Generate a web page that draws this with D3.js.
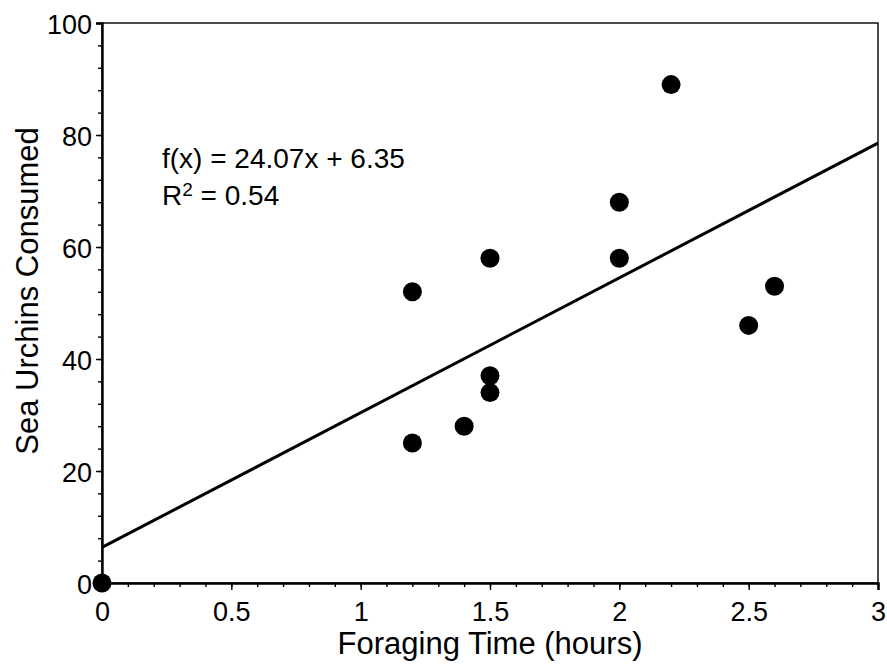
<!DOCTYPE html>
<html>
<head>
<meta charset="utf-8">
<script src="https://cdn.jsdelivr.net/npm/d3@7"></script>
<style>
  body { margin: 0; background: #fff; }
  text { font-family: "Liberation Sans", Arial, sans-serif; fill: #000; }
</style>
</head>
<body>
<div id="chart"></div>
<script>
// data
const hours = [0, 1.2, 1.2, 1.4, 1.5, 1.5, 1.5, 2, 2, 2.2, 2.5, 2.6];
const urchins = [0, 52, 25, 28, 58, 37, 34, 68, 58, 89, 46, 53];
const slope = 24.07, intercept = 6.35;
const xTicks = [0, 0.5, 1, 1.5, 2, 2.5, 3];
const yTicks = [0, 20, 40, 60, 80, 100];

const W = 887, H = 664;
const margin = { top: 23, right: 9, bottom: 81, left: 102 },
      width  = W - margin.left - margin.right,
      height = H - margin.top - margin.bottom;

const svg = d3.select("#chart").append("svg")
    .attr("width", W).attr("height", H)
  .append("g")
    .attr("transform", `translate(${margin.left},${margin.top})`);

const x = d3.scaleLinear().domain([0, 3]).range([0, width]);
const y = d3.scaleLinear().domain([0, 100]).range([height, 0]);

// frame
svg.append("rect")
   .attr("width", width).attr("height", height)
   .attr("fill", "none").attr("stroke", "#000").attr("stroke-width", 1.4);

// minor ticks
const xMinor = d3.range(0, 31).map(d => d / 10);
const yMinor = d3.range(0, 101, 4);
svg.append("g").attr("transform", `translate(0,${height})`)
   .call(d3.axisBottom(x).tickValues(xMinor).tickSize(4).tickFormat(""))
   .call(g => g.select(".domain").remove());
svg.append("g")
   .call(d3.axisLeft(y).tickValues(yMinor).tickSize(4).tickFormat(""))
   .call(g => g.select(".domain").remove());

// major axes
const xAxis = svg.append("g").attr("transform", `translate(0,${height})`)
   .call(d3.axisBottom(x).tickValues(xTicks).tickSize(7).tickPadding(12).tickFormat(d3.format("")));
const yAxis = svg.append("g")
   .call(d3.axisLeft(y).tickValues(yTicks).tickSize(6).tickPadding(4));
[xAxis, yAxis].forEach(a => {
  a.select(".domain").attr("stroke-width", 2.4);
  a.selectAll("text").style("font-size", "27px").attr("fill", "#000");
});
yAxis.selectAll("text").attr("dy", "0.4em");

svg.selectAll(".tick line").attr("stroke-width", 1.4);

// trend line
svg.append("path")
   .datum([0, 3])
   .attr("fill", "none").attr("stroke", "#000").attr("stroke-width", 3)
   .attr("d", d3.line().x(d => x(d)).y(d => y(slope * d + intercept)));

// points
svg.selectAll("circle.pt")
   .data(hours.map((h, i) => ({ h, u: urchins[i] })))
   .enter().append("circle")
   .attr("class", "pt")
   .attr("cx", d => x(d.h)).attr("cy", d => y(d.u))
   .attr("r", 9.5).attr("fill", "#000");

// annotation
svg.append("text").attr("x", 60).attr("y", 145)
   .style("font-size", "28px").text("f(x) = 24.07x + 6.35");
const r2 = svg.append("text").attr("x", 60).attr("y", 182).style("font-size", "28px");
r2.append("tspan").text("R");
r2.append("tspan").attr("dy", -9).style("font-size", "19px").text("2");
r2.append("tspan").attr("dy", 9).text(" = 0.54");

// axis titles
svg.append("text")
   .attr("x", width / 2).attr("y", 631)
   .attr("text-anchor", "middle").style("font-size", "31px")
   .text("Foraging Time (hours)");
svg.append("text")
   .attr("transform", `translate(-64,268) rotate(-90)`)
   .attr("text-anchor", "middle").style("font-size", "31px")
   .text("Sea Urchins Consumed");
</script>
</body>
</html>
